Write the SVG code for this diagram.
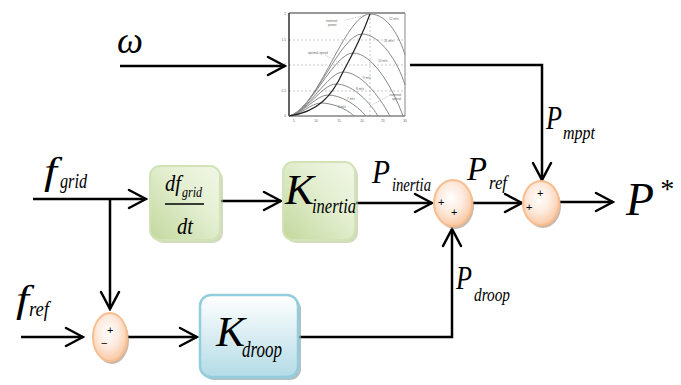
<svg xmlns="http://www.w3.org/2000/svg" width="681" height="385" viewBox="0 0 681 385">
<defs>
<style>
.t{font-family:"Liberation Serif","Times New Roman",serif;font-style:italic;fill:#000}
.c{fill:none;stroke:#000;stroke-width:2.5}
.ch{font-family:"Liberation Sans",Arial,sans-serif;fill:#666;font-size:3.2px}
.cv{fill:none;stroke:#888;stroke-width:1}
.grid{stroke:#bbb;stroke-width:0.8;stroke-dasharray:2 2;fill:none}
.sgn{font-family:"Liberation Sans",Arial,sans-serif;font-size:11px;fill:#000}
</style>
<marker id="arr" viewBox="-20 -12 22 24" markerWidth="22" markerHeight="24" refX="0" refY="0" markerUnits="userSpaceOnUse" orient="auto">
<path d="M-17,-9 L0,0 L-17,9" fill="none" stroke="#000" stroke-width="2.5" stroke-linecap="round" stroke-linejoin="miter"/>
</marker>
<linearGradient id="gG" x1="0" y1="1" x2="1" y2="0">
<stop offset="0" stop-color="#c3d89d"/><stop offset="0.6" stop-color="#e4efd2"/><stop offset="1" stop-color="#f1f7e8"/>
</linearGradient>
<linearGradient id="gB" x1="0" y1="0" x2="0" y2="1">
<stop offset="0" stop-color="#ffffff"/><stop offset="1" stop-color="#b3dbe6"/>
</linearGradient>
<radialGradient id="gO" cx="0.45" cy="0.4" r="0.6">
<stop offset="0" stop-color="#ffffff"/><stop offset="0.55" stop-color="#fde9dc"/><stop offset="1" stop-color="#f9c9a4"/>
</radialGradient>
</defs>
<rect width="681" height="385" fill="#fff"/>

<g id="chart">
<rect x="276" y="3" width="134" height="120" fill="#fff"/>
<line class="grid" x1="289" y1="40" x2="405" y2="40"/>
<line class="grid" x1="289" y1="65" x2="405" y2="65"/>
<line class="grid" x1="289" y1="91" x2="405" y2="91"/>
<line class="grid" x1="370" y1="14" x2="370" y2="116"/>
<line x1="289" y1="13" x2="405" y2="13" stroke="#333" stroke-width="1"/>
<line x1="405" y1="13" x2="405" y2="116" stroke="#888" stroke-width="1"/>
<line x1="289" y1="116" x2="405" y2="116" stroke="#444" stroke-width="1"/>
<line x1="289" y1="13" x2="289" y2="116" stroke="#222" stroke-width="1.4"/>
<g class="ch" text-anchor="end">
<text x="286" y="15">2</text><text x="286" y="41">1.5</text><text x="286" y="66">1</text><text x="286" y="92">0.5</text><text x="286" y="117">0</text>
</g>
<g class="ch" text-anchor="middle">
<text x="294" y="122">5</text><text x="316" y="122">10</text><text x="339" y="122">15</text><text x="362" y="122">20</text><text x="383" y="122">25</text><text x="405" y="122">30</text>
</g>
<path class="cv" d="M289,116 C318,110 345,14 370,14 C388,14 400,38 405,55"/>
<path class="cv" d="M289,116 C314,111 340,34 362,34 C380,34 398,62 405,85"/>
<path class="cv" d="M289,116 C310,112 334,53 353,53 C372,53 392,86 403,116"/>
<path class="cv" d="M289,116 C307,113 328,72 343,72 C360,72 378,94 390,116"/>
<path class="cv" d="M289,116 C305,114 322,84 336,84 C350,84 367,98 378,116"/>
<path class="cv" d="M289,116 C303,114 316,95 328,95 C340,95 356,104 366,116"/>
<path class="cv" d="M289,116 C301,115 311,103 321,103 C331,103 346,108 354,116"/>
<path d="M289,116 C318,112 332,96 343,72 C355,50 362,36 370,14" fill="none" stroke="#222" stroke-width="1.2"/>
<path d="M345,20 L367,15" fill="none" stroke="#aaa" stroke-width="0.6" stroke-dasharray="1.5 1"/>
<path d="M325,55 L340,63" fill="none" stroke="#aaa" stroke-width="0.6" stroke-dasharray="1.5 1"/>
<path d="M390,95 L372,105" fill="none" stroke="#aaa" stroke-width="0.6" stroke-dasharray="1.5 1"/>
<text class="ch" x="326" y="22">nominal</text><text class="ch" x="328" y="26">power</text>
<text class="ch" x="308" y="54">optimal speed</text>
<text class="ch" x="389" y="20">12 m/s</text>
<text class="ch" x="384" y="42">11 m/s</text>
<text class="ch" x="378" y="62">10 m/s</text>
<text class="ch" x="363" y="79">9 m/s</text>
<text class="ch" x="356" y="90">8 m/s</text>
<text class="ch" x="347" y="100">7 m/s</text>
<text class="ch" x="338" y="108">6 m/s</text>
<text class="ch" x="390" y="96">nominal</text><text class="ch" x="392" y="100">speed</text>
</g>

<g id="connectors">
<path class="c" d="M120,66 H285" marker-end="url(#arr)"/>
<path class="c" d="M410,65 H542 V180" marker-end="url(#arr)"/>
<path class="c" d="M33,199 H146" marker-end="url(#arr)"/>
<path class="c" d="M110,199 V309" marker-end="url(#arr)"/>
<path class="c" d="M221,201 H281" marker-end="url(#arr)"/>
<path class="c" d="M356,203 H432" marker-end="url(#arr)"/>
<path class="c" d="M472,203 H522" marker-end="url(#arr)"/>
<path class="c" d="M560,202 H613" marker-end="url(#arr)"/>
<path class="c" d="M21,337 H83" marker-end="url(#arr)"/>
<path class="c" d="M128,337 H197" marker-end="url(#arr)"/>
<path class="c" d="M298,337 H452 V229" marker-end="url(#arr)"/>
</g>

<g id="omega"><text class="t" x="117" y="53" font-size="38" textLength="26" lengthAdjust="spacingAndGlyphs">ω</text></g>
<g id="fgrid"><text class="t" x="44" y="184" font-size="38" textLength="13" lengthAdjust="spacingAndGlyphs">f</text><text class="t" x="60" y="188" font-size="21" textLength="27" lengthAdjust="spacingAndGlyphs">grid</text></g>
<g id="fref"><text class="t" x="16" y="312" font-size="38" textLength="13" lengthAdjust="spacingAndGlyphs">f</text><text class="t" x="29" y="316" font-size="21" textLength="20" lengthAdjust="spacingAndGlyphs">ref</text></g>

<g id="deriv">
<rect x="153" y="169" width="70" height="74" rx="10" fill="#b3c493" opacity="0.6"/>
<rect x="150" y="166" width="70" height="74" rx="10" fill="url(#gG)" stroke="#d3e3b8" stroke-width="2"/>
<text class="t" x="165" y="191" font-size="24" textLength="16" lengthAdjust="spacingAndGlyphs">df</text><text class="t" x="182" y="197" font-size="14" textLength="20" lengthAdjust="spacingAndGlyphs">grid</text>
<line x1="165" y1="204" x2="204" y2="204" stroke="#000" stroke-width="1.3"/>
<text class="t" x="177" y="234" font-size="24" textLength="16" lengthAdjust="spacingAndGlyphs">dt</text>
</g>

<g id="kinertia">
<rect x="286" y="165" width="72" height="78" rx="10" fill="#b3c493" opacity="0.6"/>
<rect x="283" y="162" width="72" height="78" rx="10" fill="url(#gG)" stroke="#d3e3b8" stroke-width="2"/>
<text class="t" x="285" y="204" font-size="42" textLength="29" lengthAdjust="spacingAndGlyphs">K</text><text class="t" x="312" y="213" font-size="22" textLength="44" lengthAdjust="spacingAndGlyphs">inertia</text>
</g>

<g id="kdroop">
<rect x="203" y="298" width="98" height="82" rx="11" fill="#8fa7ae" opacity="0.7"/>
<rect x="200" y="295" width="98" height="82" rx="11" fill="url(#gB)" stroke="#92cddc" stroke-width="2.5"/>
<text class="t" x="216" y="346" font-size="42" textLength="29" lengthAdjust="spacingAndGlyphs">K</text><text class="t" x="242" y="357" font-size="24" textLength="40" lengthAdjust="spacingAndGlyphs">droop</text>
</g>

<g id="sum1">
<ellipse cx="455" cy="206" rx="19" ry="23" fill="#b99a86" opacity="0.7"/>
<ellipse cx="453" cy="203" rx="19" ry="23" fill="url(#gO)" stroke="#f8be90" stroke-width="2"/>
<text class="sgn" x="438" y="206">+</text><text class="sgn" x="451" y="216">+</text>
</g>
<g id="sum2">
<ellipse cx="543" cy="206" rx="18" ry="22" fill="#b99a86" opacity="0.7"/>
<ellipse cx="541" cy="203" rx="18" ry="22" fill="url(#gO)" stroke="#f8be90" stroke-width="2"/>
<text class="sgn" x="537" y="197">+</text><text class="sgn" x="526" y="211">+</text>
</g>
<g id="sum3">
<ellipse cx="112" cy="340" rx="17" ry="24" fill="#b99a86" opacity="0.7"/>
<ellipse cx="110" cy="337" rx="17" ry="24" fill="url(#gO)" stroke="#f8be90" stroke-width="2"/>
<text class="sgn" x="107" y="334" font-size="10">+</text><text class="sgn" x="101" y="347" font-size="12">−</text>
</g>

<g id="labels">
<text class="t" x="546" y="129" font-size="33" textLength="16" lengthAdjust="spacingAndGlyphs">P</text><text class="t" x="563" y="139" font-size="19" textLength="32" lengthAdjust="spacingAndGlyphs">mppt</text>
<text class="t" x="372" y="183" font-size="33" textLength="18" lengthAdjust="spacingAndGlyphs">P</text><text class="t" x="392" y="191" font-size="19" textLength="39" lengthAdjust="spacingAndGlyphs">inertia</text>
<text class="t" x="467" y="180" font-size="33" textLength="20" lengthAdjust="spacingAndGlyphs">P</text><text class="t" x="489" y="189" font-size="19" textLength="18" lengthAdjust="spacingAndGlyphs">ref</text>
<text class="t" x="456" y="289" font-size="33" textLength="16" lengthAdjust="spacingAndGlyphs">P</text><text class="t" x="474" y="301" font-size="19" textLength="36" lengthAdjust="spacingAndGlyphs">droop</text>
<text class="t" x="626" y="215" font-size="46" textLength="28" lengthAdjust="spacingAndGlyphs">P</text><text class="t" x="659" y="198" font-size="28">*</text>
</g>
</svg>
